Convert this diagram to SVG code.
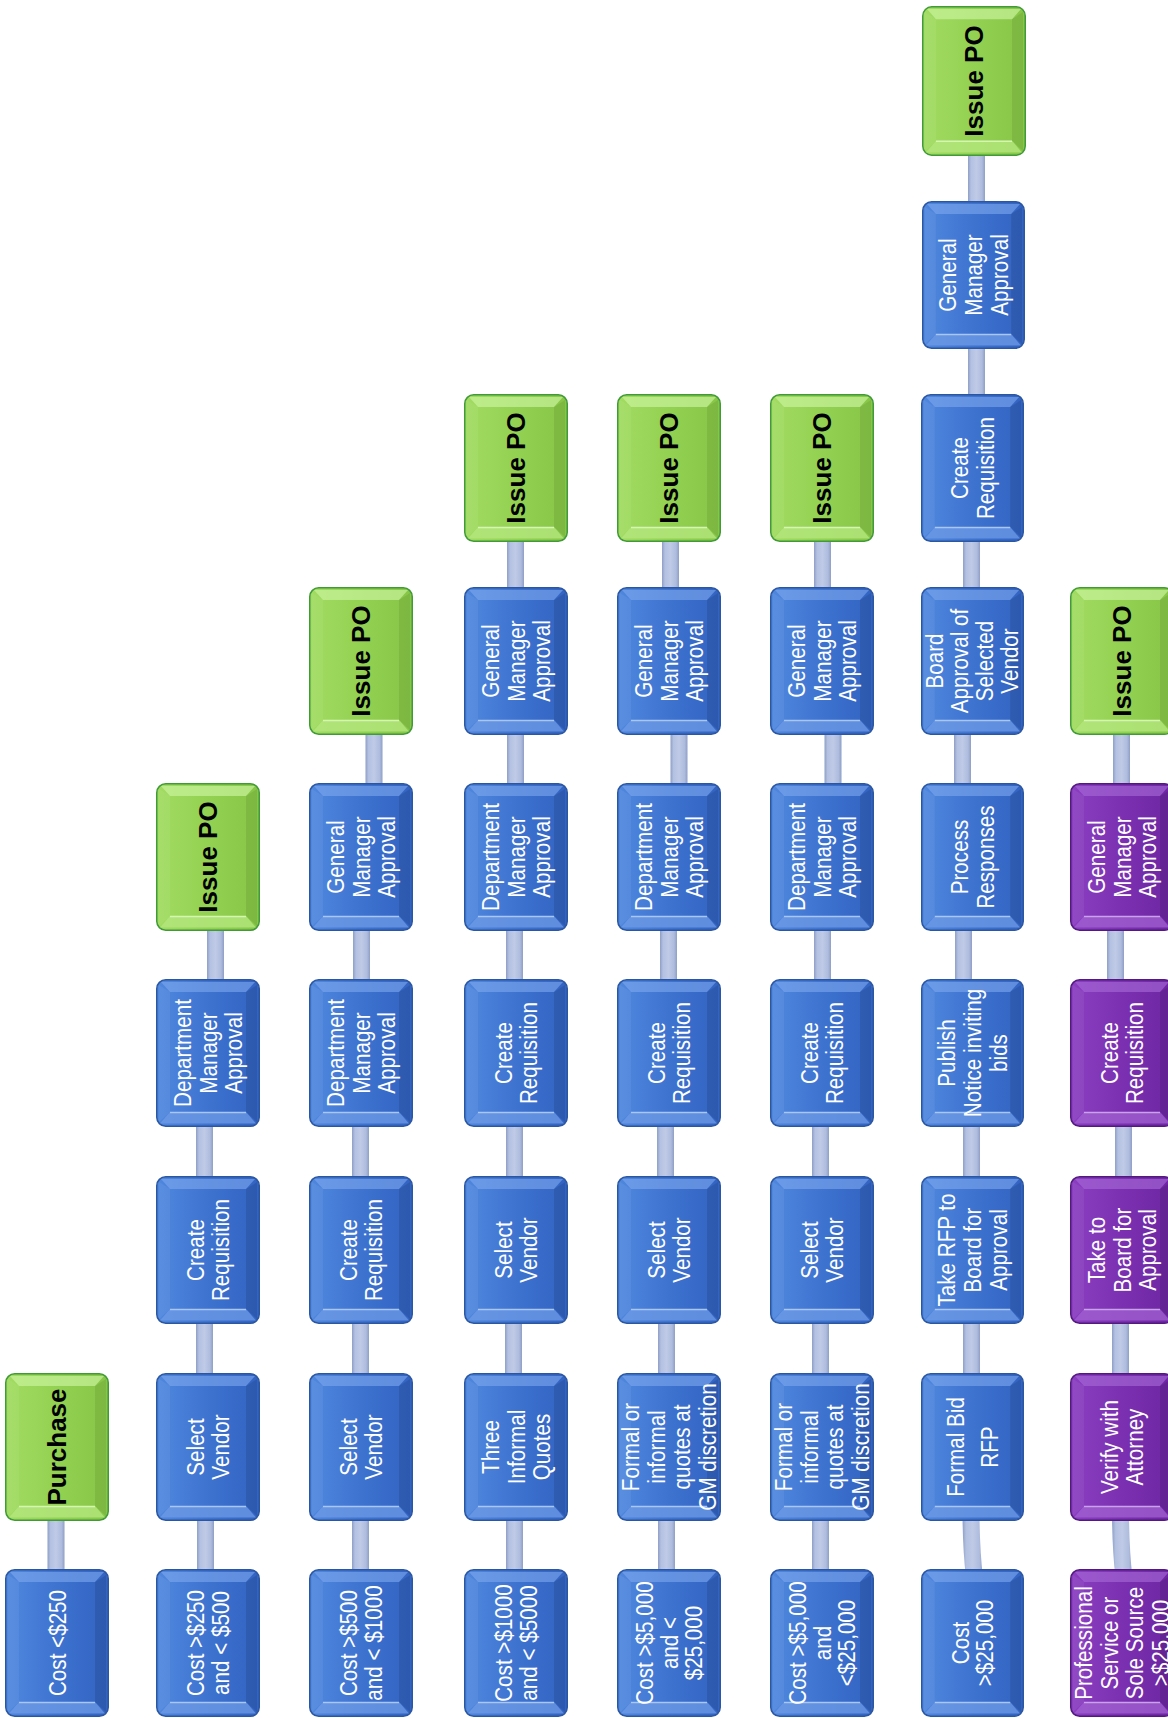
<svg xmlns="http://www.w3.org/2000/svg" xmlns:xlink="http://www.w3.org/1999/xlink" width="1168" height="1718" viewBox="0 0 1168 1718">
<style>
.t{font-family:"Liberation Sans",Arial,sans-serif;font-size:24px;fill:#ffffff;text-anchor:middle}
.b{font-family:"Liberation Sans",Arial,sans-serif;font-size:26px;font-weight:bold;fill:#000000;text-anchor:middle}
.c{fill:url(#gc)}
</style>
<defs>
<linearGradient id="gc" x1="0" y1="0" x2="1" y2="0">
<stop offset="0" stop-color="#8e9ec6"/><stop offset="0.18" stop-color="#b4c1e1"/><stop offset="0.5" stop-color="#bfcae7"/><stop offset="0.82" stop-color="#afbcdd"/><stop offset="1" stop-color="#8e9ec6"/>
</linearGradient>
<linearGradient id="fB" x1="0" y1="0" x2="1" y2="0">
<stop offset="0" stop-color="#5088de"/><stop offset="0.5" stop-color="#3e73d0"/><stop offset="1" stop-color="#3263c2"/>
</linearGradient>
<linearGradient id="fG" x1="0" y1="0" x2="1" y2="0">
<stop offset="0" stop-color="#a2dc62"/><stop offset="0.5" stop-color="#93d152"/><stop offset="1" stop-color="#86c546"/>
</linearGradient>
<linearGradient id="fP" x1="0" y1="0" x2="1" y2="0">
<stop offset="0" stop-color="#8b3ec1"/><stop offset="0.5" stop-color="#7b30b1"/><stop offset="1" stop-color="#6d26a2"/>
</linearGradient>
<symbol id="boxB" viewBox="0 0 104 148" preserveAspectRatio="none">
<rect x="0.75" y="0.75" width="102.5" height="146.5" rx="9" fill="url(#fB)" stroke="#2b56a2" stroke-width="1.5"/>
<path d="M5,3 H99 L90,13 H14 Z" fill="#7ea8ee" opacity="0.6"/>
<path d="M3,6 L14,13 V133 L3,143 Z" fill="#ffffff" opacity="0.06"/>
<path d="M101,6 L90,13 V133 L101,143 Z" fill="#000000" opacity="0.1"/>
<path d="M14,133 H90 L100,144.5 H4 Z" fill="#6f9be6" opacity="0.75"/>
<path d="M14,133.5 H90" stroke="#a9c6f5" stroke-width="1.5"/>
</symbol>
<symbol id="boxG" viewBox="0 0 104 148" preserveAspectRatio="none">
<rect x="0.75" y="0.75" width="102.5" height="146.5" rx="9" fill="url(#fG)" stroke="#3f9a37" stroke-width="1.5"/>
<path d="M5,3 H99 L90,13 H14 Z" fill="#c9f29c" opacity="0.7"/>
<path d="M3,6 L14,13 V133 L3,143 Z" fill="#ffffff" opacity="0.06"/>
<path d="M101,6 L90,13 V133 L101,143 Z" fill="#000000" opacity="0.07"/>
<path d="M14,133 H90 L100,144.5 H4 Z" fill="#b4e67e" opacity="0.8"/>
<path d="M14,133.5 H90" stroke="#d6f5b3" stroke-width="1.5"/>
</symbol>
<symbol id="boxP" viewBox="0 0 104 148" preserveAspectRatio="none">
<rect x="0.75" y="0.75" width="102.5" height="146.5" rx="9" fill="url(#fP)" stroke="#52197f" stroke-width="1.5"/>
<path d="M5,3 H99 L90,13 H14 Z" fill="#a96cd8" opacity="0.6"/>
<path d="M3,6 L14,13 V133 L3,143 Z" fill="#ffffff" opacity="0.06"/>
<path d="M101,6 L90,13 V133 L101,143 Z" fill="#000000" opacity="0.1"/>
<path d="M14,133 H90 L100,144.5 H4 Z" fill="#a162d2" opacity="0.75"/>
<path d="M14,133.5 H90" stroke="#c9a2ea" stroke-width="1.5"/>
</symbol>
</defs>
<rect width="1168" height="1718" fill="#ffffff"/>

<g id="connectors">
<rect class="c" x="47.5" y="1510" width="17" height="68"/>
<rect class="c" x="197" y="1510" width="17" height="68"/>
<rect class="c" x="196" y="1314" width="17" height="68"/>
<rect class="c" x="196" y="1117" width="17" height="68"/>
<rect class="c" x="207" y="920" width="17" height="68"/>
<rect class="c" x="352" y="1510" width="17" height="68"/>
<rect class="c" x="352" y="1314" width="17" height="68"/>
<rect class="c" x="352" y="1117" width="17" height="68"/>
<rect class="c" x="353" y="920" width="17" height="68"/>
<rect class="c" x="365.5" y="724" width="17" height="68"/>
<rect class="c" x="506" y="1510" width="17" height="68"/>
<rect class="c" x="505" y="1314" width="17" height="68"/>
<rect class="c" x="506" y="1117" width="17" height="68"/>
<rect class="c" x="506" y="920" width="17" height="68"/>
<rect class="c" x="507" y="724" width="17" height="68"/>
<rect class="c" x="507" y="531" width="17" height="64"/>
<rect class="c" x="658" y="1510" width="17" height="68"/>
<rect class="c" x="658" y="1314" width="17" height="68"/>
<rect class="c" x="657" y="1117" width="17" height="68"/>
<rect class="c" x="660" y="920" width="17" height="68"/>
<rect class="c" x="670.5" y="724" width="17" height="68"/>
<rect class="c" x="662" y="531" width="17" height="64"/>
<rect class="c" x="812" y="1510" width="17" height="68"/>
<rect class="c" x="812" y="1314" width="17" height="68"/>
<rect class="c" x="812" y="1117" width="17" height="68"/>
<rect class="c" x="814" y="920" width="17" height="68"/>
<rect class="c" x="824.5" y="724" width="17" height="68"/>
<rect class="c" x="814" y="531" width="17" height="64"/>
<path class="c" d="M962.5,1510 H979.5 Q979.5,1548 983,1578 H966 Q962.5,1548 962.5,1510 Z"/>
<rect class="c" x="963" y="1314" width="17" height="68"/>
<rect class="c" x="963" y="1117" width="17" height="68"/>
<rect class="c" x="955" y="920" width="17" height="68"/>
<rect class="c" x="954" y="724" width="17" height="68"/>
<rect class="c" x="963" y="531" width="17" height="64"/>
<rect class="c" x="968" y="340" width="17" height="62"/>
<rect class="c" x="968" y="146" width="17" height="63"/>
<path class="c" d="M1112,1510 H1129 Q1129,1548 1132.5,1578 H1115.5 Q1112,1548 1112,1510 Z"/>
<rect class="c" x="1112" y="1314" width="17" height="68"/>
<rect class="c" x="1115" y="1117" width="17" height="68"/>
<rect class="c" x="1107" y="920" width="17" height="68"/>
<rect class="c" x="1113" y="724" width="17" height="68"/>
</g>

<g id="c1-cost"><use xlink:href="#boxB" href="#boxB" x="5" y="1569" width="104" height="148"/>
<text class="t" transform="translate(57,1643) rotate(-90) scale(0.86,1)"><tspan x="0" dy="8.5">Cost &lt;$250</tspan></text></g>
<g id="c1-purchase"><use href="#boxG" x="5" y="1373" width="104" height="148"/>
<text class="b" transform="translate(57,1447) rotate(-90)"><tspan x="0" dy="9">Purchase</tspan></text></g>

<g id="c2-cost"><use href="#boxB" x="156" y="1569" width="104" height="148"/>
<text class="t" transform="translate(208,1643) rotate(-90) scale(0.86,1)"><tspan x="0" dy="-4.5">Cost &gt;$250</tspan><tspan x="0" dy="26">and &lt; $500</tspan></text></g>
<g id="c2-select"><use href="#boxB" x="156" y="1373" width="104" height="148"/>
<text class="t" transform="translate(208,1447) rotate(-90) scale(0.86,1)"><tspan x="0" dy="-4.5">Select</tspan><tspan x="0" dy="26">Vendor</tspan></text></g>
<g id="c2-req"><use href="#boxB" x="156" y="1176" width="104" height="148"/>
<text class="t" transform="translate(208,1250) rotate(-90) scale(0.86,1)"><tspan x="0" dy="-4.5">Create</tspan><tspan x="0" dy="26">Requisition</tspan></text></g>
<g id="c2-dept"><use href="#boxB" x="156" y="979" width="104" height="148"/>
<text class="t" transform="translate(208,1053) rotate(-90) scale(0.86,1)"><tspan x="0" dy="-17.5">Department</tspan><tspan x="0" dy="26">Manager</tspan><tspan x="0" dy="26">Approval</tspan></text></g>
<g id="c2-po"><use href="#boxG" x="156" y="783" width="104" height="148"/>
<text class="b" transform="translate(208,857) rotate(-90)"><tspan x="0" dy="9">Issue PO</tspan></text></g>

<g id="c3-cost"><use href="#boxB" x="309" y="1569" width="104" height="148"/>
<text class="t" transform="translate(361,1643) rotate(-90) scale(0.86,1)"><tspan x="0" dy="-4.5">Cost &gt;$500</tspan><tspan x="0" dy="26">and &lt; $1000</tspan></text></g>
<g id="c3-select"><use href="#boxB" x="309" y="1373" width="104" height="148"/>
<text class="t" transform="translate(361,1447) rotate(-90) scale(0.86,1)"><tspan x="0" dy="-4.5">Select</tspan><tspan x="0" dy="26">Vendor</tspan></text></g>
<g id="c3-req"><use href="#boxB" x="309" y="1176" width="104" height="148"/>
<text class="t" transform="translate(361,1250) rotate(-90) scale(0.86,1)"><tspan x="0" dy="-4.5">Create</tspan><tspan x="0" dy="26">Requisition</tspan></text></g>
<g id="c3-dept"><use href="#boxB" x="309" y="979" width="104" height="148"/>
<text class="t" transform="translate(361,1053) rotate(-90) scale(0.86,1)"><tspan x="0" dy="-17.5">Department</tspan><tspan x="0" dy="26">Manager</tspan><tspan x="0" dy="26">Approval</tspan></text></g>
<g id="c3-gm"><use href="#boxB" x="309" y="783" width="104" height="148"/>
<text class="t" transform="translate(361,857) rotate(-90) scale(0.86,1)"><tspan x="0" dy="-17.5">General</tspan><tspan x="0" dy="26">Manager</tspan><tspan x="0" dy="26">Approval</tspan></text></g>
<g id="c3-po"><use href="#boxG" x="309" y="587" width="104" height="148"/>
<text class="b" transform="translate(361,661) rotate(-90)"><tspan x="0" dy="9">Issue PO</tspan></text></g>

<g id="c4-cost"><use href="#boxB" x="464" y="1569" width="104" height="148"/>
<text class="t" transform="translate(516,1643) rotate(-90) scale(0.86,1)"><tspan x="0" dy="-4.5">Cost &gt;$1000</tspan><tspan x="0" dy="26">and &lt; $5000</tspan></text></g>
<g id="c4-quotes"><use href="#boxB" x="464" y="1373" width="104" height="148"/>
<text class="t" transform="translate(516,1447) rotate(-90) scale(0.86,1)"><tspan x="0" dy="-17.5">Three</tspan><tspan x="0" dy="26">Informal</tspan><tspan x="0" dy="26">Quotes</tspan></text></g>
<g id="c4-select"><use href="#boxB" x="464" y="1176" width="104" height="148"/>
<text class="t" transform="translate(516,1250) rotate(-90) scale(0.86,1)"><tspan x="0" dy="-4.5">Select</tspan><tspan x="0" dy="26">Vendor</tspan></text></g>
<g id="c4-req"><use href="#boxB" x="464" y="979" width="104" height="148"/>
<text class="t" transform="translate(516,1053) rotate(-90) scale(0.86,1)"><tspan x="0" dy="-4.5">Create</tspan><tspan x="0" dy="26">Requisition</tspan></text></g>
<g id="c4-dept"><use href="#boxB" x="464" y="783" width="104" height="148"/>
<text class="t" transform="translate(516,857) rotate(-90) scale(0.86,1)"><tspan x="0" dy="-17.5">Department</tspan><tspan x="0" dy="26">Manager</tspan><tspan x="0" dy="26">Approval</tspan></text></g>
<g id="c4-gm"><use href="#boxB" x="464" y="587" width="104" height="148"/>
<text class="t" transform="translate(516,661) rotate(-90) scale(0.86,1)"><tspan x="0" dy="-17.5">General</tspan><tspan x="0" dy="26">Manager</tspan><tspan x="0" dy="26">Approval</tspan></text></g>
<g id="c4-po"><use href="#boxG" x="464" y="394" width="104" height="148"/>
<text class="b" transform="translate(516,468) rotate(-90)"><tspan x="0" dy="9">Issue PO</tspan></text></g>

<g id="c5-cost"><use href="#boxB" x="617" y="1569" width="104" height="148"/>
<text class="t" transform="translate(669,1643) rotate(-90) scale(0.86,1)"><tspan x="0" dy="-16.5">Cost &gt;$5,000</tspan><tspan x="0" dy="25">and &lt;</tspan><tspan x="0" dy="25">$25,000</tspan></text></g>
<g id="c5-quotes"><use href="#boxB" x="617" y="1373" width="104" height="148"/>
<text class="t" transform="translate(669,1447) rotate(-90) scale(0.86,1)"><tspan x="0" dy="-30.5">Formal or</tspan><tspan x="0" dy="26">informal</tspan><tspan x="0" dy="26">quotes at</tspan><tspan x="0" dy="26">GM discretion</tspan></text></g>
<g id="c5-select"><use href="#boxB" x="617" y="1176" width="104" height="148"/>
<text class="t" transform="translate(669,1250) rotate(-90) scale(0.86,1)"><tspan x="0" dy="-4.5">Select</tspan><tspan x="0" dy="26">Vendor</tspan></text></g>
<g id="c5-req"><use href="#boxB" x="617" y="979" width="104" height="148"/>
<text class="t" transform="translate(669,1053) rotate(-90) scale(0.86,1)"><tspan x="0" dy="-4.5">Create</tspan><tspan x="0" dy="26">Requisition</tspan></text></g>
<g id="c5-dept"><use href="#boxB" x="617" y="783" width="104" height="148"/>
<text class="t" transform="translate(669,857) rotate(-90) scale(0.86,1)"><tspan x="0" dy="-17.5">Department</tspan><tspan x="0" dy="26">Manager</tspan><tspan x="0" dy="26">Approval</tspan></text></g>
<g id="c5-gm"><use href="#boxB" x="617" y="587" width="104" height="148"/>
<text class="t" transform="translate(669,661) rotate(-90) scale(0.86,1)"><tspan x="0" dy="-17.5">General</tspan><tspan x="0" dy="26">Manager</tspan><tspan x="0" dy="26">Approval</tspan></text></g>
<g id="c5-po"><use href="#boxG" x="617" y="394" width="104" height="148"/>
<text class="b" transform="translate(669,468) rotate(-90)"><tspan x="0" dy="9">Issue PO</tspan></text></g>

<g id="c6-cost"><use href="#boxB" x="770" y="1569" width="104" height="148"/>
<text class="t" transform="translate(822,1643) rotate(-90) scale(0.86,1)"><tspan x="0" dy="-16.5">Cost &gt;$5,000</tspan><tspan x="0" dy="25">and</tspan><tspan x="0" dy="25">&lt;$25,000</tspan></text></g>
<g id="c6-quotes"><use href="#boxB" x="770" y="1373" width="104" height="148"/>
<text class="t" transform="translate(822,1447) rotate(-90) scale(0.86,1)"><tspan x="0" dy="-30.5">Formal or</tspan><tspan x="0" dy="26">informal</tspan><tspan x="0" dy="26">quotes at</tspan><tspan x="0" dy="26">GM discretion</tspan></text></g>
<g id="c6-select"><use href="#boxB" x="770" y="1176" width="104" height="148"/>
<text class="t" transform="translate(822,1250) rotate(-90) scale(0.86,1)"><tspan x="0" dy="-4.5">Select</tspan><tspan x="0" dy="26">Vendor</tspan></text></g>
<g id="c6-req"><use href="#boxB" x="770" y="979" width="104" height="148"/>
<text class="t" transform="translate(822,1053) rotate(-90) scale(0.86,1)"><tspan x="0" dy="-4.5">Create</tspan><tspan x="0" dy="26">Requisition</tspan></text></g>
<g id="c6-dept"><use href="#boxB" x="770" y="783" width="104" height="148"/>
<text class="t" transform="translate(822,857) rotate(-90) scale(0.86,1)"><tspan x="0" dy="-17.5">Department</tspan><tspan x="0" dy="26">Manager</tspan><tspan x="0" dy="26">Approval</tspan></text></g>
<g id="c6-gm"><use href="#boxB" x="770" y="587" width="104" height="148"/>
<text class="t" transform="translate(822,661) rotate(-90) scale(0.86,1)"><tspan x="0" dy="-17.5">General</tspan><tspan x="0" dy="26">Manager</tspan><tspan x="0" dy="26">Approval</tspan></text></g>
<g id="c6-po"><use href="#boxG" x="770" y="394" width="104" height="148"/>
<text class="b" transform="translate(822,468) rotate(-90)"><tspan x="0" dy="9">Issue PO</tspan></text></g>

<g id="c7-cost"><use href="#boxB" x="921" y="1569" width="103" height="148"/>
<text class="t" transform="translate(972.5,1643) rotate(-90) scale(0.86,1)"><tspan x="0" dy="-3.5">Cost</tspan><tspan x="0" dy="24">&gt;$25,000</tspan></text></g>
<g id="c7-bid"><use href="#boxB" x="921" y="1373" width="103" height="148"/>
<text class="t" transform="translate(972.5,1447) rotate(-90) scale(0.86,1)"><tspan x="0" dy="-8.5">Formal Bid</tspan><tspan x="0" dy="34">RFP</tspan></text></g>
<g id="c7-rfp"><use href="#boxB" x="921" y="1176" width="103" height="148"/>
<text class="t" transform="translate(972.5,1250) rotate(-90) scale(0.86,1)"><tspan x="0" dy="-17.5">Take RFP to</tspan><tspan x="0" dy="26">Board for</tspan><tspan x="0" dy="26">Approval</tspan></text></g>
<g id="c7-publish"><use href="#boxB" x="921" y="979" width="103" height="148"/>
<text class="t" transform="translate(972.5,1053) rotate(-90) scale(0.86,1)"><tspan x="0" dy="-17.5">Publish</tspan><tspan x="0" dy="26">Notice inviting</tspan><tspan x="0" dy="26">bids</tspan></text></g>
<g id="c7-process"><use href="#boxB" x="921" y="783" width="103" height="148"/>
<text class="t" transform="translate(972.5,857) rotate(-90) scale(0.86,1)"><tspan x="0" dy="-4.5">Process</tspan><tspan x="0" dy="26">Responses</tspan></text></g>
<g id="c7-board"><use href="#boxB" x="921" y="587" width="103" height="148"/>
<text class="t" transform="translate(972.5,661) rotate(-90) scale(0.86,1)"><tspan x="0" dy="-29.5">Board</tspan><tspan x="0" dy="25">Approval of</tspan><tspan x="0" dy="25">Selected</tspan><tspan x="0" dy="25">Vendor</tspan></text></g>
<g id="c7-req"><use href="#boxB" x="921" y="394" width="103" height="148"/>
<text class="t" transform="translate(972.5,468) rotate(-90) scale(0.86,1)"><tspan x="0" dy="-4.5">Create</tspan><tspan x="0" dy="26">Requisition</tspan></text></g>
<g id="c7-gm"><use href="#boxB" x="922" y="201" width="103" height="148"/>
<text class="t" transform="translate(973.5,275) rotate(-90) scale(0.86,1)"><tspan x="0" dy="-17.5">General</tspan><tspan x="0" dy="26">Manager</tspan><tspan x="0" dy="26">Approval</tspan></text></g>
<g id="c7-po"><use href="#boxG" x="922" y="6" width="104" height="150"/>
<text class="b" transform="translate(974,81) rotate(-90)"><tspan x="0" dy="9">Issue PO</tspan></text></g>

<g id="c8-prof"><use href="#boxP" x="1070" y="1569" width="104" height="148"/>
<text class="t" transform="translate(1122,1643) rotate(-90) scale(0.86,1)"><tspan x="0" dy="-30.5">Professional</tspan><tspan x="0" dy="26">Service or</tspan><tspan x="0" dy="26">Sole Source</tspan><tspan x="0" dy="26">&gt;$25,000</tspan></text></g>
<g id="c8-verify"><use href="#boxP" x="1070" y="1373" width="104" height="148"/>
<text class="t" transform="translate(1122,1447) rotate(-90) scale(0.86,1)"><tspan x="0" dy="-4.5">Verify with</tspan><tspan x="0" dy="26">Attorney</tspan></text></g>
<g id="c8-board"><use href="#boxP" x="1070" y="1176" width="104" height="148"/>
<text class="t" transform="translate(1122,1250) rotate(-90) scale(0.86,1)"><tspan x="0" dy="-17.5">Take to</tspan><tspan x="0" dy="26">Board for</tspan><tspan x="0" dy="26">Approval</tspan></text></g>
<g id="c8-req"><use href="#boxP" x="1070" y="979" width="104" height="148"/>
<text class="t" transform="translate(1122,1053) rotate(-90) scale(0.86,1)"><tspan x="0" dy="-4.5">Create</tspan><tspan x="0" dy="26">Requisition</tspan></text></g>
<g id="c8-gm"><use href="#boxP" x="1070" y="783" width="104" height="148"/>
<text class="t" transform="translate(1122,857) rotate(-90) scale(0.86,1)"><tspan x="0" dy="-17.5">General</tspan><tspan x="0" dy="26">Manager</tspan><tspan x="0" dy="26">Approval</tspan></text></g>
<g id="c8-po"><use href="#boxG" x="1070" y="587" width="104" height="148"/>
<text class="b" transform="translate(1122,661) rotate(-90)"><tspan x="0" dy="9">Issue PO</tspan></text></g>
</svg>
